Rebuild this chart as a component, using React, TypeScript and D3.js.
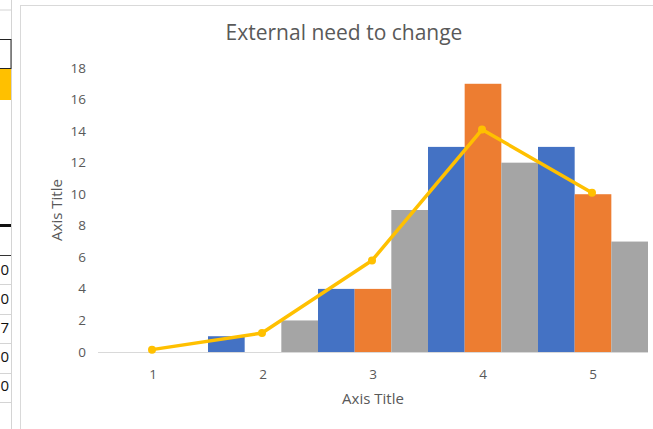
import React from "react";
import * as d3 from "d3";

const categories = ["1", "2", "3", "4", "5"];
const seriesBlue = [0, 1, 4, 13, 13];
const seriesOrange = [0, 0, 4, 17, 10];
const seriesGrey = [0, 2, 9, 12, 7];
const lineValues = [0.15, 1.2, 5.8, 14.1, 10.1];
const yTicks = [0, 2, 4, 6, 8, 10, 12, 14, 16, 18];
const sheetValues = ["0", "0", "7", "0", "0"];

const W = 653;
const H = 429;
const FONT = "'Open Sans', 'Noto Sans', sans-serif";
const TEXT = "#595959";

export default function App() {
  const x = d3.scaleBand<string>().domain(categories).range([98, 648]).paddingInner(0).paddingOuter(0);
  const y = d3.scaleLinear().domain([0, 18]).range([352, 68]);
  const inner = d3.scaleBand<string>().domain(["b", "o", "g"]).range([0, x.bandwidth()]).padding(0);
  const series = [
    { key: "b", values: seriesBlue, color: "#4472C4" },
    { key: "o", values: seriesOrange, color: "#ED7D31" },
    { key: "g", values: seriesGrey, color: "#A5A5A5" },
  ];
  const cx = (c: string) => (x(c) as number) + x.bandwidth() / 2 - 1;
  const line = d3
    .line<number>()
    .x((_, i) => cx(categories[i]))
    .y((v) => y(v));

  const rowLines = [284, 314, 343, 373, 402];
  const rowCenters = [270, 299, 328, 357, 386];

  return (
    <svg width={W} height={H} style={{ position: "absolute", left: 0, top: 0, background: "#fff" }}>
      {/* spreadsheet strip */}
      <line x1={0} x2={12} y1={10} y2={10} stroke="#d4d4d4" />
      <line x1={11.5} x2={11.5} y1={0} y2={H} stroke="#d4d4d4" />
      <rect x={-2} y={39.5} width={13} height={29} fill="none" stroke="#222" strokeWidth={1} />
      <rect x={0} y={69} width={11} height={31} fill="#FFC000" />
      <rect x={0} y={224} width={11} height={3} fill="#111" />
      <line x1={0} x2={11} y1={255.5} y2={255.5} stroke="#333" />
      {rowLines.map((ry, i) => (
        <line key={i} x1={0} x2={11} y1={ry + 0.5} y2={ry + 0.5} stroke="#d4d4d4" />
      ))}
      {sheetValues.map((v, i) => (
        <text key={i} x={9} y={rowCenters[i] + 5} textAnchor="end" fontFamily={FONT} fontSize={15} fill="#111">
          {v}
        </text>
      ))}

      {/* chart frame */}
      <rect x={20.5} y={5.5} width={700} height={500} fill="#fff" stroke="#d9d9d9" />

      <text x={344} y={40} textAnchor="middle" fontFamily={FONT} fontSize={21} fill={TEXT}>
        External need to change
      </text>

      {yTicks.map((t) => (
        <text key={t} x={86} y={y(t) + 4.5} textAnchor="end" fontFamily={FONT} fontSize={13.5} fill={TEXT}>
          {t}
        </text>
      ))}

      {series.map((s) =>
        s.values.map((v, i) => {
          const c = categories[i];
          const bx = (x(c) as number) + (inner(s.key) as number);
          return (
            <rect
              key={s.key + i}
              x={bx}
              y={y(v)}
              width={inner.bandwidth()}
              height={y(0) - y(v)}
              fill={s.color}
            />
          );
        })
      )}

      <line x1={98} x2={648} y1={352.5} y2={352.5} stroke="#d9d9d9" strokeWidth={1} />

      {categories.map((c) => (
        <text key={c} x={cx(c) + 1} y={379} textAnchor="middle" fontFamily={FONT} fontSize={13.5} fill={TEXT}>
          {c}
        </text>
      ))}

      <path d={line(lineValues) || ""} fill="none" stroke="#FFC000" strokeWidth={3.5} strokeLinejoin="round" />
      {lineValues.map((v, i) => (
        <circle key={i} cx={cx(categories[i])} cy={y(v)} r={4} fill="#FFC000" />
      ))}

      <text x={373} y={404} textAnchor="middle" fontFamily={FONT} fontSize={15} fill={TEXT}>
        Axis Title
      </text>
      <text
        transform={`translate(62,210) rotate(-90)`}
        textAnchor="middle"
        fontFamily={FONT}
        fontSize={15}
        fill={TEXT}
      >
        Axis Title
      </text>
    </svg>
  );
}
